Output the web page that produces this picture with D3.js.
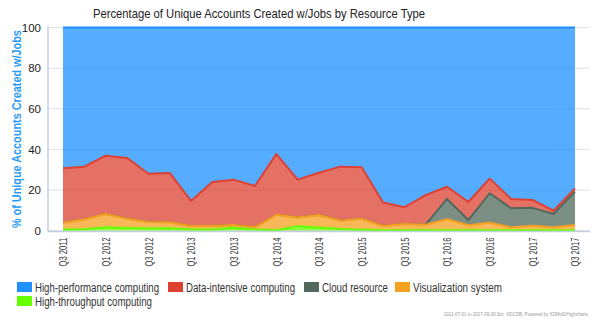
<!DOCTYPE html>
<html><head><meta charset="utf-8">
<script src="https://cdn.jsdelivr.net/npm/d3@7"></script>
<style>body{margin:0;background:#fff}svg{display:block;font-family:"Liberation Sans Narrow","Liberation Sans",Arial,sans-serif}</style>
</head><body><svg id="c" width="600" height="320"></svg>
<script>
const quarters = ["Q3 2011","Q4 2011","Q1 2012","Q2 2012","Q3 2012","Q4 2012","Q1 2013","Q2 2013","Q3 2013","Q4 2013","Q1 2014","Q2 2014","Q3 2014","Q4 2014","Q1 2015","Q2 2015","Q3 2015","Q4 2015","Q1 2016","Q2 2016","Q3 2016","Q4 2016","Q1 2017","Q2 2017","Q3 2017"];
const hpc   = [69.3,68.5,63.1,64.2,72.0,71.6,85.4,76.1,74.9,78.0,62.3,74.9,71.5,68.5,68.8,86.2,88.5,82.5,78.4,85.9,74.4,84.4,84.9,90.2,79.2];
const dataIntensive = [26.8,25.9,28.7,29.9,23.8,24.3,12.3,21.5,22.3,20.4,29.9,18.7,20.8,26.6,25.3,11.5,8.2,14.6,6.0,8.9,7.2,4.6,3.9,1.6,1.6];
const cloud = [0,0,0,0,0,0,0,0,0,0,0,0,0,0,0,0,0,0,10.0,2.6,14.5,9.4,8.8,6.6,16.4];
const visualization = [3.3,4.9,6.6,4.6,3.2,3.0,1.8,1.9,1.4,1.0,7.6,4.2,6.2,4.1,5.5,2.1,3.1,2.7,5.4,2.4,3.7,1.4,2.2,1.4,2.6];
const htc   = [0.6,0.7,1.6,1.3,1.0,1.1,0.5,0.5,1.4,0.6,0.2,2.2,1.5,0.8,0.4,0.2,0.2,0.2,0.2,0.2,0.2,0.2,0.2,0.2,0.2];
const yTicks = [0,20,40,60,80,100];
const labelQuarters = quarters.filter((d,i)=>i%2===0);

const seriesDefs = [
  {key:"hpc", name:"High-performance computing", color:"#1e90ff", values:hpc},
  {key:"di", name:"Data-intensive computing", color:"#dc4132", values:dataIntensive},
  {key:"cloud", name:"Cloud resource", color:"#50695c", values:cloud},
  {key:"vis", name:"Visualization system", color:"#f5a020", values:visualization},
  {key:"htc", name:"High-throughput computing", color:"#66ff00", values:htc}
];

const NARROW = '"Liberation Sans Narrow","Liberation Sans",Arial,sans-serif';
const REG = '"Liberation Sans",Arial,sans-serif';

const svg = d3.select("#c");
const plot = {l:48, r:590, t:27.6, b:230.6};

const rows = quarters.map((q,i)=>{
  const o={q};
  seriesDefs.forEach(s=>o[s.key]=s.values[i]);
  return o;
});
const stackKeys = seriesDefs.map(s=>s.key).reverse(); // bottom to top
const stacked = d3.stack().keys(stackKeys).offset(d3.stackOffsetExpand)(rows);

const x = d3.scalePoint().domain(quarters).range([plot.l+15, plot.r-15]);
const y = d3.scaleLinear().domain([0,100]).range([plot.b, plot.t]);

// gridlines
svg.append("g").selectAll("line").data(yTicks).join("line")
  .attr("x1",plot.l).attr("x2",plot.r)
  .attr("y1",d=>y(d)).attr("y2",d=>y(d))
  .attr("stroke","#e0e0e0").attr("stroke-width",1);

const area = d3.area().x(d=>x(d.data.q)).y0(d=>y(d[0]*100)).y1(d=>y(d[1]*100));
const line = d3.line().x(d=>x(d.data.q)).y(d=>y(d[1]*100));

const g = svg.append("g");
seriesDefs.forEach(s=>{
  const layer = stacked.find(l=>l.key===s.key);
  g.append("path").attr("d",area(layer)).attr("fill",s.color).attr("fill-opacity",0.75);
  g.append("path").attr("d",line(layer)).attr("fill","none").attr("stroke",s.color).attr("stroke-width",2).attr("stroke-linejoin","round");
});

// axis lines
svg.append("line").attr("x1",plot.l).attr("x2",plot.l).attr("y1",plot.t-1).attr("y2",plot.b+1)
  .attr("stroke","#c0d0e0").attr("stroke-width",1.5);
svg.append("line").attr("x1",plot.l).attr("x2",plot.r).attr("y1",plot.b+1).attr("y2",plot.b+1)
  .attr("stroke","#c0d0e0").attr("stroke-width",1.5);

// y axis
const yAxis = d3.axisLeft(y).tickValues(yTicks).tickSize(0).tickPadding(7);
const ya = svg.append("g").attr("transform",`translate(${plot.l},0)`).call(yAxis);
ya.select(".domain").remove();
ya.selectAll("text").attr("font-size",11.5).attr("fill","#222").attr("font-family",NARROW);

// x axis
const xAxis = d3.axisBottom(x).tickValues(labelQuarters).tickSize(0).tickPadding(0);
const xa = svg.append("g").attr("transform",`translate(0,${plot.b})`).call(xAxis);
xa.select(".domain").remove();
xa.selectAll("text").attr("font-size",10.5).attr("fill","#333").attr("font-family",NARROW)
  .attr("text-anchor","end").attr("dy","0.35em")
  .attr("textLength",29).attr("lengthAdjust","spacingAndGlyphs")
  .attr("transform","translate(0,7) rotate(-90)").attr("y",0).attr("x",0);

// title
svg.append("text").attr("x",259).attr("y",18).attr("text-anchor","middle")
  .attr("font-size",13.5).attr("fill","#222").attr("font-family",NARROW)
  .attr("textLength",332).attr("lengthAdjust","spacingAndGlyphs")
  .text("Percentage of Unique Accounts Created w/Jobs by Resource Type");

// y title
svg.append("text").attr("transform",`translate(21,${(plot.t+plot.b)/2}) rotate(-90)`)
  .attr("text-anchor","middle").attr("font-size",12.5).attr("font-weight","bold").attr("fill","#2a9bf5")
  .attr("font-family",REG)
  .attr("textLength",198).attr("lengthAdjust","spacingAndGlyphs")
  .text("% of Unique Accounts Created w/Jobs");

// legend
const legendPos = [[17,282],[168,282],[304,282],[395,282],[17,296]];
const legendLen = [124,109,66,89,117];
seriesDefs.forEach((s,i)=>{
  const [lx,ly] = legendPos[i];
  svg.append("rect").attr("x",lx).attr("y",ly).attr("width",15).attr("height",10).attr("fill",s.color);
  svg.append("text").attr("x",lx+18).attr("y",ly+9.5).attr("font-size",12.5).attr("fill","#333")
    .attr("font-family",NARROW)
    .attr("textLength",legendLen[i]).attr("lengthAdjust","spacingAndGlyphs").text(s.name);
});

// credits
svg.append("text").attr("x",588).attr("y",316).attr("text-anchor","end").attr("font-size",4.5).attr("fill","#999")
  .attr("font-family",REG)
  .text("2011-07-01 to 2017-09-30 Src: XDCDB. Powered by XDMoD/Highcharts");
</script></body></html>
